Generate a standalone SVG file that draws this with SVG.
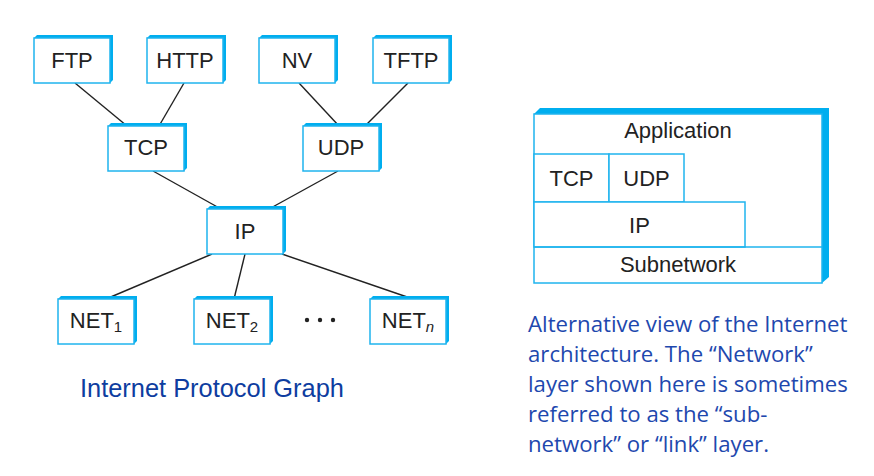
<svg xmlns="http://www.w3.org/2000/svg" width="874" height="476" viewBox="0 0 874 476">
<style>
.ext{fill:#00aeef}
.face{fill:#fff;stroke:#1fb4ee;stroke-width:1.5}
.lbl{font-family:"Liberation Sans",Arial,sans-serif;font-size:22px;fill:#222;text-anchor:middle}
.sub{font-size:15px}
.edge{stroke:#222;stroke-width:1.4;fill:none}
.cap{font-family:"Liberation Sans",Arial,sans-serif;font-size:25.4px;fill:#0e3da0}
.note{font-family:"Open Sans","Noto Sans",sans-serif;font-size:22.2px;fill:#1e48ae}
</style>
<defs>
<g id="nb"><polygon class="ext" points="0,0 3,-3 79,-3 79,42 76,45"/><rect class="face" x="0" y="0" width="76" height="45"/></g>
</defs>
<rect width="874" height="476" fill="#fff"/>
<g id="connectors">
<line class="edge" x1="75" y1="83" x2="127" y2="126"/>
<line class="edge" x1="184" y1="83" x2="159" y2="126"/>
<line class="edge" x1="299" y1="83" x2="339" y2="126"/>
<line class="edge" x1="408" y1="83" x2="365" y2="126"/>
<line class="edge" x1="153" y1="171" x2="221" y2="209"/>
<line class="edge" x1="338" y1="171" x2="269" y2="209"/>
<line class="edge" x1="212" y1="254" x2="106" y2="299"/>
<line class="edge" x1="245" y1="254" x2="234" y2="299"/>
<line class="edge" x1="282" y1="254" x2="413" y2="299"/>
</g>
<g id="ftp"><use href="#nb" x="34" y="38"/><text class="lbl" x="72" y="68">FTP</text></g>
<g id="http"><use href="#nb" x="147" y="38"/><text class="lbl" x="185" y="68">HTTP</text></g>
<g id="nv"><use href="#nb" x="259" y="38"/><text class="lbl" x="297" y="68">NV</text></g>
<g id="tftp"><use href="#nb" x="373" y="38"/><text class="lbl" x="411" y="68">TFTP</text></g>
<g id="tcp"><use href="#nb" x="108" y="126"/><text class="lbl" x="146" y="155">TCP</text></g>
<g id="udp"><use href="#nb" x="303" y="126"/><text class="lbl" x="341" y="155">UDP</text></g>
<g id="ip"><use href="#nb" x="207" y="209"/><text class="lbl" x="245" y="239">IP</text></g>
<g id="net1"><use href="#nb" x="58" y="299"/><text class="lbl" x="96" y="328">NET<tspan class="sub" dy="4">1</tspan></text></g>
<g id="net2"><use href="#nb" x="194" y="299"/><text class="lbl" x="232" y="328">NET<tspan class="sub" dy="4">2</tspan></text></g>
<g id="netn"><use href="#nb" x="370" y="299"/><text class="lbl" x="408" y="328">NET<tspan class="sub" dy="4" font-style="italic">n</tspan></text></g>
<g id="dots" fill="#222"><circle cx="307" cy="320" r="2.2"/><circle cx="320" cy="320" r="2.2"/><circle cx="333" cy="320" r="2.2"/></g>
<text class="cap" x="80" y="397">Internet Protocol Graph</text>
<g id="stack">
<polygon class="ext" points="534,114 540,108 829,108 829,277 822,283"/>
<rect class="face" x="534" y="114" width="288" height="169"/>
<rect class="face" x="534" y="154" width="75" height="48"/>
<rect class="face" x="609" y="154" width="75" height="48"/>
<rect class="face" x="534" y="202" width="211" height="45"/>
<line x1="534" y1="247" x2="822" y2="247" stroke="#1fb4ee" stroke-width="1.5"/>
<text class="lbl" x="678" y="138" font-size="23.5">Application</text>
<text class="lbl" x="571.5" y="186">TCP</text>
<text class="lbl" x="646.5" y="186">UDP</text>
<text class="lbl" x="639.5" y="233">IP</text>
<text class="lbl" x="678" y="272">Subnetwork</text>
</g>
<g id="note" class="note">
<text x="528" y="332">Alternative view of the Internet</text>
<text x="528" y="362">architecture. The “Network”</text>
<text x="528" y="392">layer shown here is sometimes</text>
<text x="528" y="422">referred to as the “sub-</text>
<text x="528" y="452">network” or “link” layer.</text>
</g>
</svg>
